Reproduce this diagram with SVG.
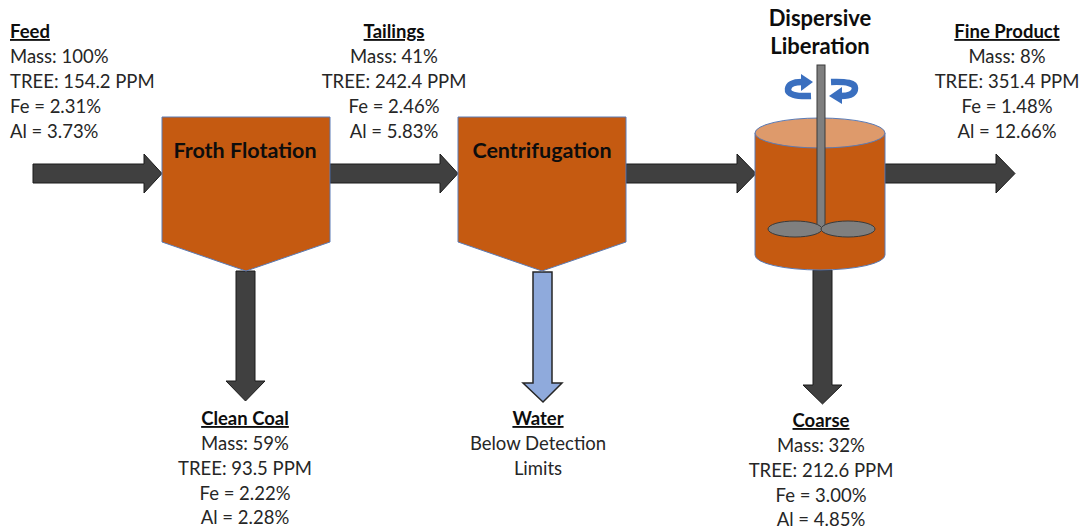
<svg xmlns="http://www.w3.org/2000/svg" width="1082" height="529" viewBox="0 0 1082 529">
<defs>
<style>
.t{font-family:Lato,"Open Sans","Liberation Sans",sans-serif;font-size:18.5px;fill:#262626}
.h{font-weight:bold;text-decoration:underline;fill:#0d0d0d}
.m{text-anchor:middle}
.unit{fill:#C55A11;stroke:#5B7BB5;stroke-width:1}
.title{font-family:Lato,"Open Sans","Liberation Sans",sans-serif;font-size:21.5px;font-weight:bold;fill:#0d0d0d;text-anchor:middle}
.arr{fill:#404040;stroke:#1a1a1a;stroke-width:1}
.warr{fill:#8FAADC;stroke:#262626;stroke-width:1.5}
.rot{fill:none;stroke:#3A6FBF;stroke-width:6.5}
.roth{fill:#3A6FBF}
</style>
</defs>
<rect width="1082" height="529" fill="#ffffff"/>

<g id="connectors">
<polygon class="arr" points="33,164 144,164 144,154 162,173.5 144,193 144,183 33,183"/>
<polygon class="arr" points="330,164 440,164 440,154 458,173.5 440,193 440,183 330,183"/>
<polygon class="arr" points="626,164 737,164 737,154 756,173.5 737,193 737,183 626,183"/>
<polygon class="arr" points="885,164 996,164 996,154 1015,173.5 996,193 996,183 885,183"/>
<polygon class="arr" points="236,271 255,271 255,381 265,381 245.5,401 226,381 236,381"/>
<polygon class="warr" points="533,272 552,272 552,383 562,383 543,402 523,383 533,383"/>
<polygon class="arr" points="813,270 832,270 832,385 842,385 822.5,404 803,385 813,385"/>
</g>

<g id="feed">
<text class="t h" x="10" y="38">Feed</text>
<text class="t" x="10" y="63">Mass: 100%</text>
<text class="t" x="10" y="88">TREE: 154.2 PPM</text>
<text class="t" x="10" y="113">Fe = 2.31%</text>
<text class="t" x="10" y="138">Al = 3.73%</text>
</g>

<g id="froth-flotation">
<polygon class="unit" points="162,117 330,117 330,242 246,271 162,242"/>
<text class="title" x="245" y="158">Froth Flotation</text>
</g>

<g id="tailings">
<text class="t h m" x="394" y="38">Tailings</text>
<text class="t m" x="394" y="63">Mass: 41%</text>
<text class="t m" x="394" y="88">TREE: 242.4 PPM</text>
<text class="t m" x="394" y="113">Fe = 2.46%</text>
<text class="t m" x="394" y="138">Al = 5.83%</text>
</g>

<g id="centrifugation">
<polygon class="unit" points="458,117 626,117 626,242 542,271 458,242"/>
<text class="title" x="542" y="158">Centrifugation</text>
</g>

<g id="dispersive-liberation">
<text class="title" x="820" y="26" style="font-size:22px">Dispersive</text>
<text class="title" x="820" y="54" style="font-size:22px">Liberation</text>
<path class="unit" d="M755,133 L755,255 A65,15 0 0 0 885,255 L885,133 Z"/>
<ellipse cx="820" cy="133" rx="65" ry="15" fill="#DE9A6B" stroke="#5B7BB5" stroke-width="1"/>
<rect x="817" y="65" width="8" height="163" fill="#7F7F7F" stroke="#3a3a3a" stroke-width="1"/>
<ellipse cx="795" cy="229" rx="27" ry="8" fill="#7F7F7F" stroke="#3a3a3a" stroke-width="1"/>
<ellipse cx="848" cy="229" rx="27" ry="8" fill="#7F7F7F" stroke="#3a3a3a" stroke-width="1"/>
<path class="rot" d="M811,96 Q787,97 788,89 Q789,82 802,82"/>
<polygon class="roth" points="801,74 813,82 801,91"/>
<path class="rot" d="M831,82 Q855,81 855,88 Q855,96 841,96"/>
<polygon class="roth" points="842,87 829,96 842,104"/>
</g>

<g id="fine-product">
<text class="t h m" x="1007" y="38">Fine Product</text>
<text class="t m" x="1007" y="63">Mass: 8%</text>
<text class="t m" x="1007" y="88">TREE: 351.4 PPM</text>
<text class="t m" x="1007" y="113">Fe = 1.48%</text>
<text class="t m" x="1007" y="138">Al = 12.66%</text>
</g>

<g id="clean-coal">
<text class="t h m" x="245" y="425">Clean Coal</text>
<text class="t m" x="245" y="450">Mass: 59%</text>
<text class="t m" x="245" y="475">TREE: 93.5 PPM</text>
<text class="t m" x="245" y="500">Fe = 2.22%</text>
<text class="t m" x="245" y="524">Al = 2.28%</text>
</g>

<g id="water">
<text class="t h m" x="538" y="425">Water</text>
<text class="t m" x="538" y="450">Below Detection</text>
<text class="t m" x="538" y="475">Limits</text>
</g>

<g id="coarse">
<text class="t h m" x="821" y="427">Coarse</text>
<text class="t m" x="821" y="452">Mass: 32%</text>
<text class="t m" x="821" y="477">TREE: 212.6 PPM</text>
<text class="t m" x="821" y="502">Fe = 3.00%</text>
<text class="t m" x="821" y="526">Al = 4.85%</text>
</g>
</svg>
